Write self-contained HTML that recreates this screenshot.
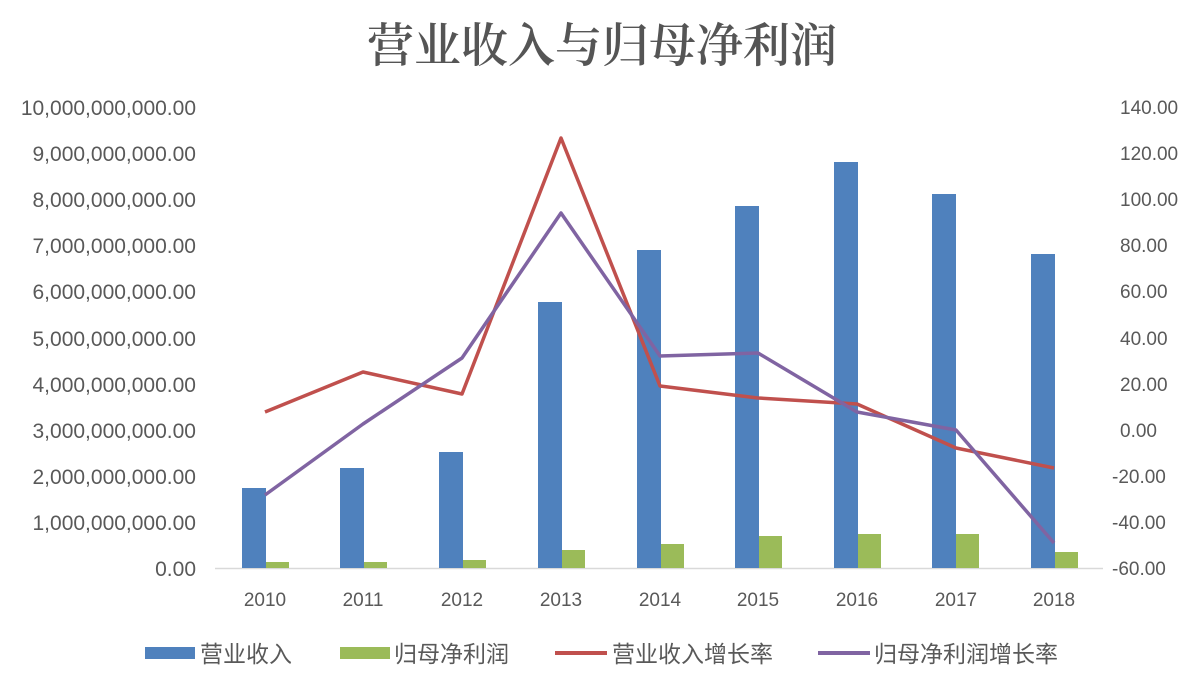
<!DOCTYPE html>
<html><head><meta charset="utf-8"><style>
html,body{margin:0;padding:0;background:#fff;}
svg text{font-family:"Liberation Sans","Noto Sans CJK SC",sans-serif;fill:#595959;}
</style></head><body>
<svg width="1204" height="688" viewBox="0 0 1204 688" xmlns="http://www.w3.org/2000/svg">
<rect width="1204" height="688" fill="#fff"/>
<text x="602" y="62" text-anchor="middle" font-size="47" style="fill:#555;font-family:'Noto Serif CJK SC','Noto Sans CJK SC',serif;font-weight:600">营业收入与归母净利润</text>
<g font-size="21" text-anchor="end">
<text x="196" y="115">10,000,000,000.00</text>
<text x="196" y="161">9,000,000,000.00</text>
<text x="196" y="207">8,000,000,000.00</text>
<text x="196" y="253">7,000,000,000.00</text>
<text x="196" y="299">6,000,000,000.00</text>
<text x="196" y="346">5,000,000,000.00</text>
<text x="196" y="392">4,000,000,000.00</text>
<text x="196" y="438">3,000,000,000.00</text>
<text x="196" y="484">2,000,000,000.00</text>
<text x="196" y="530">1,000,000,000.00</text>
<text x="196" y="576">0.00</text>
</g>
<g font-size="19" text-anchor="start">
<text x="1120" y="114">140.00</text>
<text x="1120" y="160">120.00</text>
<text x="1120" y="206">100.00</text>
<text x="1120" y="252">80.00</text>
<text x="1120" y="298">60.00</text>
<text x="1120" y="345">40.00</text>
<text x="1120" y="391">20.00</text>
<text x="1120" y="437">0.00</text>
<text x="1112" y="483">-20.00</text>
<text x="1112" y="529">-40.00</text>
<text x="1112" y="575">-60.00</text>
</g>
<line x1="215" y1="568.5" x2="1103" y2="568.5" stroke="#d9d9d9" stroke-width="1.5"/>
<g fill="#4f81bd">
<rect x="242" y="488" width="24" height="80"/>
<rect x="340" y="468" width="24" height="100"/>
<rect x="439" y="452" width="24" height="116"/>
<rect x="538" y="302" width="24" height="266"/>
<rect x="637" y="250" width="24" height="318"/>
<rect x="735" y="206" width="24" height="362"/>
<rect x="834" y="162" width="24" height="406"/>
<rect x="932" y="194" width="24" height="374"/>
<rect x="1031" y="254" width="24" height="314"/>
</g>
<g fill="#9bbb59">
<rect x="266" y="562" width="23" height="6"/>
<rect x="364" y="562" width="23" height="6"/>
<rect x="463" y="560" width="23" height="8"/>
<rect x="562" y="550" width="23" height="18"/>
<rect x="661" y="544" width="23" height="24"/>
<rect x="759" y="536" width="23" height="32"/>
<rect x="858" y="534" width="23" height="34"/>
<rect x="956" y="534" width="23" height="34"/>
<rect x="1055" y="552" width="23" height="16"/>
</g>
<polyline fill="none" stroke="#c0504d" stroke-width="3.5" stroke-linejoin="round" points="265,412 363,372 462,394 561,138 660,386 758,398 857,404 956,448 1054,468"/>
<polyline fill="none" stroke="#8064a2" stroke-width="3.5" stroke-linejoin="round" points="265,495 363,424 462,358 561,213 660,356 758,353 857,412 956,430 1054,543"/>
<g font-size="19" text-anchor="middle">
<text x="265" y="606">2010</text><text x="363" y="606">2011</text><text x="462" y="606">2012</text>
<text x="561" y="606">2013</text><text x="660" y="606">2014</text><text x="758" y="606">2015</text>
<text x="857" y="606">2016</text><text x="956" y="606">2017</text><text x="1054" y="606">2018</text>
</g>
<g font-size="23">
<rect x="145" y="647" width="50" height="12" fill="#4f81bd"/>
<text x="200" y="662">营业收入</text>
<rect x="340" y="647" width="50" height="12" fill="#9bbb59"/>
<text x="394" y="662">归母净利润</text>
<line x1="555" y1="653" x2="607" y2="653" stroke="#c0504d" stroke-width="4"/>
<text x="612" y="662">营业收入增长率</text>
<line x1="818" y1="653" x2="870" y2="653" stroke="#8064a2" stroke-width="4"/>
<text x="874" y="662">归母净利润增长率</text>
</g>
</svg>
</body></html>
